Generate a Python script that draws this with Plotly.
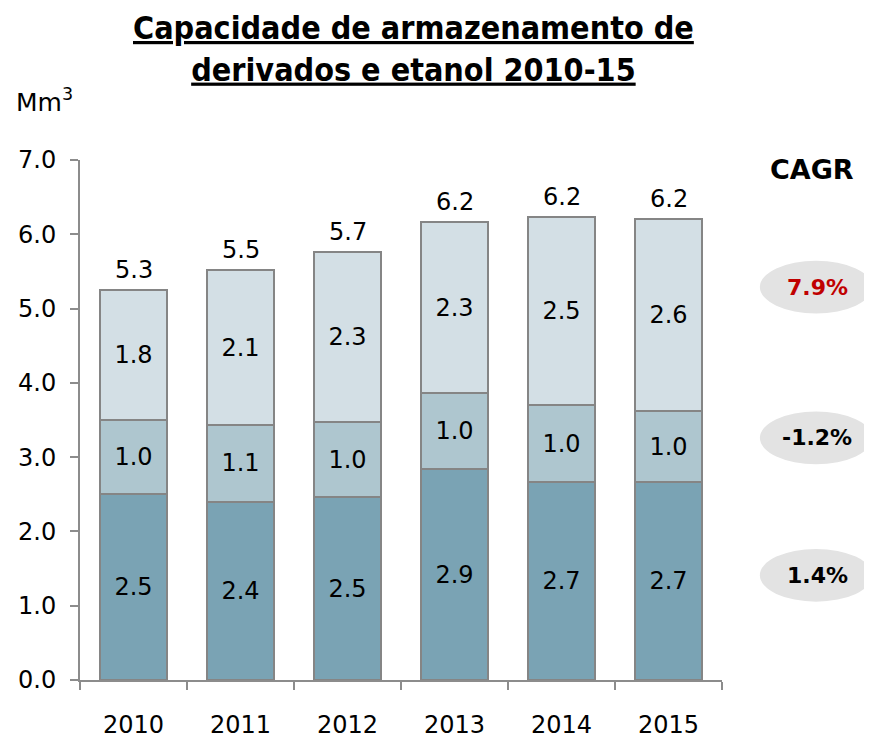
import plotly.graph_objects as go

years = ["2010", "2011", "2012", "2013", "2014", "2015"]
bottom = [2.50, 2.40, 2.46, 2.84, 2.66, 2.66]
middle = [1.00, 1.03, 1.01, 1.02, 1.04, 0.96]
top = [1.75, 2.09, 2.29, 2.30, 2.53, 2.58]
bottom_lbl = ["2.5", "2.4", "2.5", "2.9", "2.7", "2.7"]
middle_lbl = ["1.0", "1.1", "1.0", "1.0", "1.0", "1.0"]
top_lbl = ["1.8", "2.1", "2.3", "2.3", "2.5", "2.6"]
total_lbl = ["5.3", "5.5", "5.7", "6.2", "6.2", "6.2"]
totals = [b + m + t for b, m, t in zip(bottom, middle, top)]
cagr_lbl = ["1.4%", "-1.2%", "7.9%"]
cagr_y = [1.41, 3.26, 5.29]
cagr_col = ["#000000", "#000000", "#c00000"]

colors = ["#7aa3b4", "#aec6cf", "#d3dfe5"]
fnt = "DejaVu Sans"

fig = go.Figure()
for vals, lbls, c in zip([bottom, middle, top], [bottom_lbl, middle_lbl, top_lbl], colors):
    fig.add_trace(go.Bar(
        x=years, y=vals, text=lbls, textposition="inside", insidetextanchor="middle",
        textfont=dict(family=fnt, size=24, color="#000000"),
        marker=dict(color=c, line=dict(color="#858585", width=2)),
        width=0.63, hoverinfo="skip", cliponaxis=False,
    ))

shapes = []
annotations = [
    dict(text="<b><u>Capacidade de armazenamento de</u></b><br><b><u>derivados e etanol 2010-15</u></b>",
         xref="paper", yref="paper", x=0.519, y=1.294, xanchor="center", yanchor="top",
         font=dict(family="DejaVu Sans Condensed", size=32, color="#000000"), showarrow=False),
    dict(text="Mm<sup>3</sup>", xref="paper", yref="paper", x=-0.103, y=1.115, xanchor="left",
         yanchor="middle", font=dict(family=fnt, size=25, color="#000000"), showarrow=False),
    dict(text="<b>CAGR</b>", xref="paper", yref="y", x=1.14, y=6.87, xanchor="center",
         yanchor="middle", font=dict(family=fnt, size=27, color="#000000"), showarrow=False),
]
for i, (tv, tl) in enumerate(zip(totals, total_lbl)):
    annotations.append(dict(text=tl, x=i, y=tv, xref="x", yref="y", xanchor="center",
                            yanchor="bottom", yshift=4, showarrow=False,
                            font=dict(family=fnt, size=24, color="#000000")))
for lbl, yv, col in zip(cagr_lbl, cagr_y, cagr_col):
    shapes.append(dict(type="circle", xref="paper", yref="y", x0=1.059, x1=1.234,
                       y0=yv - 0.355, y1=yv + 0.355, fillcolor="#e3e3e3", line=dict(width=0),
                       layer="below"))
    annotations.append(dict(text=f"<b>{lbl}</b>", xref="paper", yref="y", x=1.148, y=yv,
                            xanchor="center", yanchor="middle",
                            font=dict(family=fnt, size=22, color=col), showarrow=False))

fig.update_layout(
    width=872, height=741, barmode="stack", showlegend=False,
    paper_bgcolor="white", plot_bgcolor="white",
    margin=dict(l=72, r=158, t=152, b=69, autoexpand=False),
    shapes=shapes, annotations=annotations,
    xaxis=dict(type="category", showline=True, linecolor="#8c8c8c", linewidth=2,
               ticks="outside", tickson="boundaries", ticklen=8, tickcolor="#8c8c8c", tickwidth=2,
               tickfont=dict(family=fnt, size=24, color="#000000"), ticklabelstandoff=22,
               showgrid=False, range=[-0.5, 5.5], automargin=False),
    yaxis=dict(range=[0, 7], dtick=1, tickformat=".1f", showline=True, linecolor="#8c8c8c",
               linewidth=2, ticks="outside", ticklen=8, tickcolor="#8c8c8c", tickwidth=2,
               tickfont=dict(family=fnt, size=24, color="#000000"), showgrid=False,
               zeroline=False, automargin=False, ticklabelstandoff=9),
)
fig.write_html("out.html")
